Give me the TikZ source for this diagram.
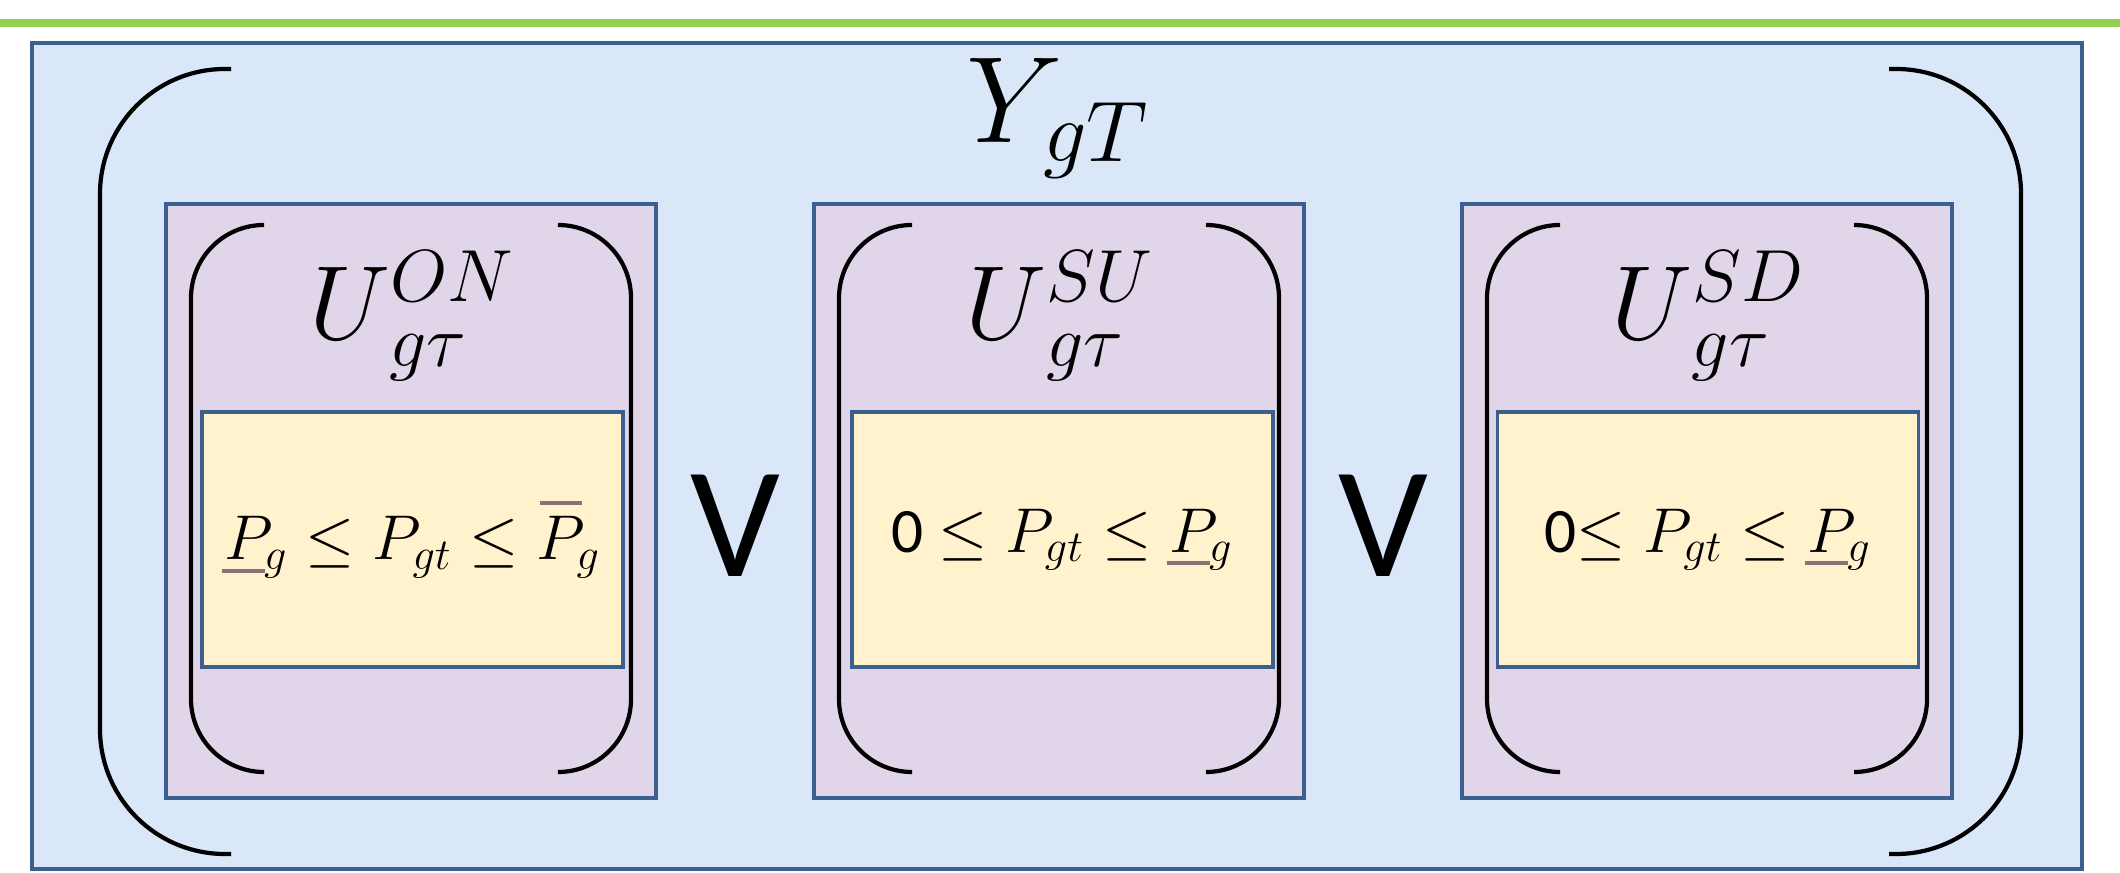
\RequirePackage{fix-cm}
\documentclass[tikz,border=0pt]{standalone}
\usepackage{fontspec}
\setmainfont{Carlito}
\usetikzlibrary{positioning,calc}
\definecolor{panelblue}{HTML}{D9E7F8}
\definecolor{frameblue}{HTML}{3B5F8E}
\definecolor{unitlilac}{HTML}{E1D6E9}
\definecolor{conscream}{HTML}{FFF2CC}
\definecolor{barbrown}{HTML}{8B7171}
\definecolor{topgreen}{HTML}{92D050}
\newcommand{\Plow}{\rlap{\color{barbrown}\kern-0.04em\rule[-0.21em]{0.68em}{0.065em}}P_g}
\newcommand{\Phigh}{\rlap{\color{barbrown}\kern0.06em\rule[0.86em]{0.66em}{0.065em}}P_g}

\begin{document}
\begin{tikzpicture}[
    line width=1.1pt,
    outer/.style={draw=frameblue, fill=panelblue, line width=1.0pt,
                  minimum width=20.5cm, minimum height=8.26cm, inner sep=0pt},
    unitbox/.style={draw=frameblue, fill=unitlilac,
                    minimum width=4.90cm, minimum height=5.94cm, inner sep=0pt},
    cons/.style={draw=frameblue, fill=conscream,
                 minimum width=4.21cm, minimum height=2.55cm, inner sep=0pt,
                 font=\fontsize{18}{22}\selectfont},
    brk/.style={draw=black, line width=1.2pt, rounded corners=0.73cm},
    bigbrk/.style={draw=black, line width=1.2pt, rounded corners=1.25cm},
    ylbl/.style={font=\fontsize{35}{40}\selectfont, anchor=base, inner sep=0pt},
    ulbl/.style={font=\fontsize{30}{36}\selectfont, anchor=base, inner sep=0pt},
    orsym/.style={font=\fontsize{45}{50}\selectfont, anchor=base, inner sep=0pt},
  ]
  \useasboundingbox (0,0) rectangle (21.2,8.72);

  % Green rule and outer panel.
  \fill[topgreen] (0,8.45) rectangle (21.2,8.53);
  \node[outer] (ybox) at (10.57,4.16) {};
  \draw[bigbrk] (2.31,8.03) -- (1.00,8.03) -- (1.00,0.18) -- (2.31,0.18);
  \draw[bigbrk] (18.89,8.03) -- (20.21,8.03) -- (20.21,0.18) -- (18.89,0.18);
  \node[ylbl] (ygt) at (10.58,7.29) {$Y_{\kern0.06em gT}$};

  % Three unit states.
  \node[unitbox] (onbox) at (4.11,3.71) {};
  \node[unitbox] (subox) at (10.59,3.71) {};
  \node[unitbox] (sdbox) at (17.07,3.71) {};

  \draw[brk] ($(onbox.center)+(-1.47,2.76)$) -- ++(-0.73,0) -- ++(0,-5.47) -- ++(0.73,0);
  \draw[brk] ($(onbox.center)+(1.47,2.76)$) -- ++(0.73,0) -- ++(0,-5.47) -- ++(-0.73,0);
  \draw[brk] ($(subox.center)+(-1.47,2.76)$) -- ++(-0.73,0) -- ++(0,-5.47) -- ++(0.73,0);
  \draw[brk] ($(subox.center)+(1.47,2.76)$) -- ++(0.73,0) -- ++(0,-5.47) -- ++(-0.73,0);
  \draw[brk] ($(sdbox.center)+(-1.47,2.76)$) -- ++(-0.73,0) -- ++(0,-5.47) -- ++(0.73,0);
  \draw[brk] ($(sdbox.center)+(1.47,2.76)$) -- ++(0.73,0) -- ++(0,-5.47) -- ++(-0.73,0);

  \node[ulbl] (onlbl) at (4.12,5.32) {$U_{\kern0.1em g\tau}^{ON}$};
  \node[ulbl] (sulbl) at (10.60,5.32) {$U_{\kern0.1em g\tau}^{SU}$};
  \node[ulbl] (sdlbl) at (17.08,5.32) {$U_{\kern0.1em g\tau}^{SD}$};

  \node[cons] (oncons) at (4.125,3.325) {$\Plow \le P_{gt} \le \Phigh$};
  \node[cons] (sucons) at (10.625,3.325) {0 $\le P_{gt} \le \Plow$};
  \node[cons] (sdcons) at (17.08,3.325) {0$\le P_{gt} \le \Plow$};

  % Alternatives.
  \node[orsym] (or1) at (7.35,2.95) {V};
  \node[orsym] (or2) at (13.83,2.95) {V};
\end{tikzpicture}
\end{document}
